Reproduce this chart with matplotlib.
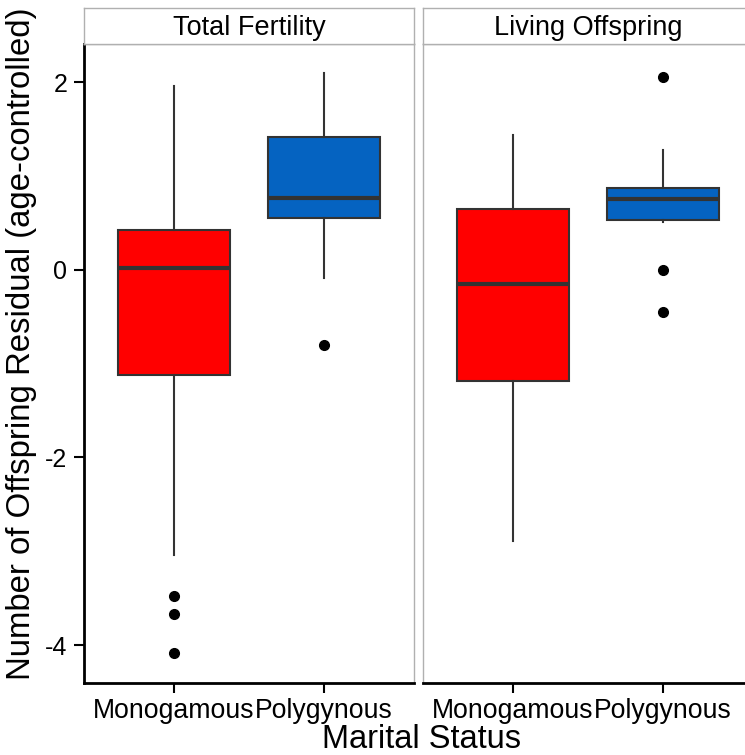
import matplotlib
matplotlib.use("Agg")
import matplotlib.pyplot as plt

plt.rcParams['font.family'] = ['Liberation Sans', 'DejaVu Sans']
plt.rcParams['axes.unicode_minus'] = False

# data (age-controlled residuals)
panels = ["Total Fertility", "Living Offspring"]
groups = ["Monogamous", "Polygynous"]
colors = ["#FF0000", "#0563C1"]

whislo = [[-3.04, -0.09], [-2.89, 0.51]]
q1 = [[-1.12, 0.55], [-1.18, 0.53]]
med = [[0.02, 0.77], [-0.15, 0.76]]
q3 = [[0.43, 1.42], [0.65, 0.87]]
whishi = [[1.96, 2.10], [1.44, 1.28]]
fliers = [[[-3.48, -3.67, -4.09], [-0.80]],
          [[], [2.06, 0.0, -0.45]]]

yticks = [2, 0, -2, -4]

W, H = 745, 755
fig = plt.figure(figsize=(W / 100, H / 100), dpi=100)

panel_left = [84, 423]
panel_w = 330
top, bottom, strip_top = 44, 683, 8

for p, name in enumerate(panels):
    x0 = panel_left[p]
    ax = fig.add_axes([x0 / W, (H - bottom) / H, panel_w / W, (bottom - top) / H])
    stats = []
    for g in range(2):
        stats.append(dict(med=med[p][g], q1=q1[p][g], q3=q3[p][g],
                          whislo=whislo[p][g], whishi=whishi[p][g],
                          fliers=fliers[p][g]))
    bp = ax.bxp(stats, positions=[1, 2], widths=0.75, patch_artist=True,
                showcaps=False,
                boxprops=dict(edgecolor="#333333", linewidth=1.5),
                medianprops=dict(color="#333333", linewidth=3),
                whiskerprops=dict(color="#333333", linewidth=1.5),
                flierprops=dict(marker="o", markerfacecolor="black",
                                markeredgecolor="black", markersize=7))
    for box, c in zip(bp["boxes"], colors):
        box.set_facecolor(c)

    ax.set_xlim(0.4, 2.6)
    ax.set_ylim(-4.405, 2.41)
    ax.set_xticks([1, 2])
    ax.set_xticklabels(groups, fontsize=19.2)
    ax.set_yticks(yticks)
    ax.set_yticklabels([str(v) for v in yticks], fontsize=18)
    ax.tick_params(length=7, width=1.5, color="black", pad=4)
    ax.tick_params(axis="y", pad=5)

    for s in ["top", "right", "left"]:
        ax.spines[s].set_color("#B0B0B0")
        ax.spines[s].set_linewidth(1)
    ax.spines["bottom"].set_color("black")
    ax.spines["bottom"].set_linewidth(2)
    if p == 0:
        ax.spines["left"].set_color("black")
        ax.spines["left"].set_linewidth(2)
    else:
        ax.tick_params(axis="y", left=False, labelleft=False)

    # facet strip
    sax = fig.add_axes([x0 / W, (H - top) / H, panel_w / W, (top - strip_top) / H])
    sax.set_xticks([])
    sax.set_yticks([])
    for s in sax.spines.values():
        s.set_color("#B0B0B0")
        s.set_linewidth(1)
    sax.text(0.5, 0.45, name, ha="center", va="center", fontsize=19.5,
             transform=sax.transAxes)

fig.text(421 / W, 1 - 740 / H, "Marital Status", ha="center", va="center", fontsize=23.5)
fig.text(22 / W, 1 - 344 / H, "Number of Offspring Residual (age-controlled)",
         ha="center", va="center", rotation=90, fontsize=23.7)

fig.savefig("out.png", dpi=100)
